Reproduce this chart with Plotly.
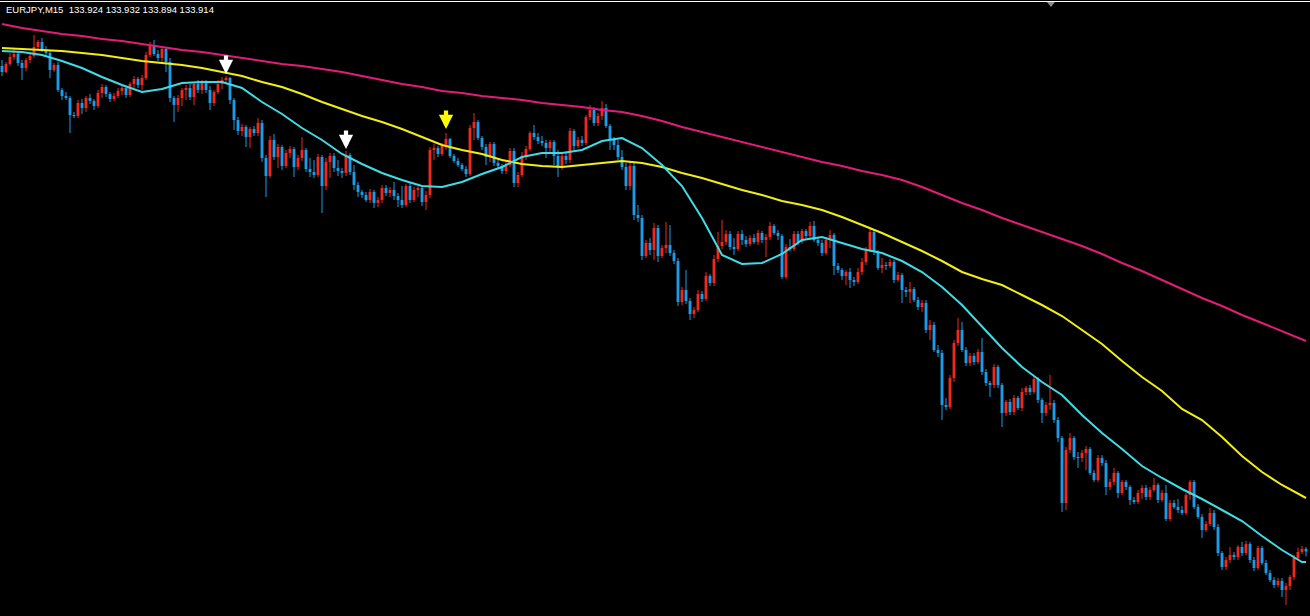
import plotly.graph_objects as go

# ---------------- data (EURJPY M15, prices) ----------------
bars = list(range(327))

opens = [
    135.856, 135.832, 135.864, 135.892, 135.904, 135.868, 135.848, 135.880, 135.896, 135.932,
    135.952, 135.920, 135.908, 135.840, 135.860, 135.760, 135.736, 135.728, 135.660, 135.656,
    135.708, 135.688, 135.728, 135.716, 135.696, 135.748, 135.772, 135.744, 135.724, 135.736,
    135.756, 135.768, 135.740, 135.784, 135.804, 135.780, 135.808, 135.900, 135.936, 135.904,
    135.888, 135.924, 135.872, 135.728, 135.700, 135.728, 135.760, 135.768, 135.732, 135.784,
    135.760, 135.788, 135.760, 135.708, 135.752, 135.784, 135.800, 135.808, 135.720, 135.640,
    135.596, 135.612, 135.572, 135.604, 135.588, 135.628, 135.488, 135.416, 135.560, 135.492,
    135.532, 135.456, 135.508, 135.524, 135.452, 135.488, 135.520, 135.444, 135.432, 135.420,
    135.492, 135.376, 135.472, 135.496, 135.448, 135.436, 135.428, 135.500, 135.432, 135.380,
    135.352, 135.340, 135.320, 135.352, 135.308, 135.320, 135.368, 135.348, 135.360, 135.336,
    135.320, 135.300, 135.376, 135.320, 135.360, 135.368, 135.312, 135.340, 135.520, 135.528,
    135.504, 135.536, 135.564, 135.496, 135.476, 135.460, 135.444, 135.424, 135.608, 135.632,
    135.568, 135.532, 135.492, 135.544, 135.468, 135.456, 135.436, 135.460, 135.516, 135.388,
    135.420, 135.496, 135.524, 135.588, 135.572, 135.556, 135.548, 135.528, 135.552, 135.496,
    135.456, 135.496, 135.480, 135.596, 135.536, 135.560, 135.548, 135.652, 135.680, 135.628,
    135.656, 135.688, 135.616, 135.560, 135.540, 135.492, 135.452, 135.376, 135.456, 135.260,
    135.248, 135.096, 135.148, 135.120, 135.208, 135.096, 135.128, 135.140, 135.108, 135.076,
    134.912, 134.960, 134.916, 134.864, 134.880, 134.944, 134.924, 135.016, 134.988, 135.084,
    135.136, 135.152, 135.184, 135.132, 135.124, 135.184, 135.160, 135.144, 135.168, 135.152,
    135.188, 135.160, 135.172, 135.216, 135.188, 135.176, 135.012, 135.132, 135.124, 135.184,
    135.152, 135.196, 135.176, 135.216, 135.160, 135.148, 135.108, 135.160, 135.180, 135.056,
    135.040, 135.016, 135.032, 135.000, 134.992, 135.032, 135.072, 135.120, 135.192, 135.112,
    135.048, 135.060, 135.056, 135.072, 135.000, 135.020, 134.960, 134.952, 134.964, 134.920,
    134.892, 134.908, 134.800, 134.820, 134.720, 134.708, 134.500, 134.492, 134.608, 134.748,
    134.800, 134.720, 134.668, 134.696, 134.672, 134.712, 134.632, 134.588, 134.580, 134.652,
    134.580, 134.468, 134.512, 134.472, 134.528, 134.488, 134.552, 134.568, 134.552, 134.604,
    134.520, 134.468, 134.500, 134.508, 134.440, 134.368, 134.108, 134.320, 134.368, 134.292,
    134.288, 134.308, 134.324, 134.228, 134.200, 134.288, 134.268, 134.172, 134.192, 134.228,
    134.148, 134.192, 134.172, 134.120, 134.112, 134.148, 134.168, 134.132, 134.160, 134.180,
    134.120, 134.148, 134.044, 134.108, 134.092, 134.080, 134.068, 134.140, 134.192, 134.092,
    134.052, 134.000, 134.024, 134.068, 134.012, 133.908, 133.852, 133.880, 133.900, 133.892,
    133.932, 133.908, 133.944, 133.880, 133.848, 133.928, 133.868, 133.828, 133.800, 133.780,
    133.796, 133.760, 133.776, 133.812, 133.888, 133.912, 133.924,
]

highs = [
    135.880, 135.872, 135.908, 135.928, 135.912, 135.880, 135.888, 135.904, 135.980, 135.960,
    135.968, 135.936, 135.920, 135.868, 135.872, 135.768, 135.752, 135.736, 135.672, 135.720,
    135.724, 135.736, 135.744, 135.724, 135.760, 135.784, 135.780, 135.752, 135.748, 135.768,
    135.780, 135.776, 135.792, 135.816, 135.812, 135.820, 135.912, 135.952, 135.960, 135.920,
    135.936, 135.932, 135.888, 135.736, 135.740, 135.768, 135.780, 135.784, 135.792, 135.800,
    135.800, 135.800, 135.776, 135.760, 135.800, 135.812, 135.816, 135.812, 135.728, 135.652,
    135.624, 135.620, 135.612, 135.616, 135.648, 135.640, 135.500, 135.576, 135.584, 135.544,
    135.540, 135.520, 135.536, 135.532, 135.500, 135.572, 135.528, 135.488, 135.480, 135.504,
    135.500, 135.488, 135.508, 135.508, 135.480, 135.448, 135.516, 135.508, 135.460, 135.392,
    135.360, 135.352, 135.364, 135.360, 135.332, 135.380, 135.380, 135.372, 135.392, 135.348,
    135.376, 135.384, 135.388, 135.372, 135.376, 135.376, 135.356, 135.532, 135.544, 135.536,
    135.548, 135.588, 135.568, 135.504, 135.488, 135.468, 135.456, 135.620, 135.668, 135.640,
    135.576, 135.544, 135.552, 135.552, 135.480, 135.464, 135.472, 135.528, 135.528, 135.432,
    135.512, 135.536, 135.596, 135.620, 135.588, 135.576, 135.560, 135.560, 135.560, 135.520,
    135.508, 135.512, 135.608, 135.604, 135.572, 135.576, 135.660, 135.700, 135.692, 135.668,
    135.716, 135.704, 135.624, 135.572, 135.560, 135.520, 135.468, 135.472, 135.472, 135.300,
    135.260, 135.160, 135.168, 135.228, 135.220, 135.140, 135.232, 135.220, 135.120, 135.088,
    134.972, 135.040, 134.928, 134.892, 134.960, 134.956, 135.032, 135.024, 135.100, 135.192,
    135.240, 135.200, 135.196, 135.168, 135.196, 135.200, 135.176, 135.180, 135.184, 135.200,
    135.196, 135.184, 135.232, 135.224, 135.200, 135.184, 135.144, 135.164, 135.196, 135.196,
    135.204, 135.204, 135.232, 135.236, 135.172, 135.160, 135.172, 135.200, 135.188, 135.068,
    135.048, 135.040, 135.048, 135.012, 135.048, 135.088, 135.132, 135.204, 135.200, 135.120,
    135.088, 135.072, 135.084, 135.080, 135.032, 135.028, 134.972, 134.992, 134.972, 134.932,
    134.920, 134.920, 134.840, 134.832, 134.740, 134.720, 134.528, 134.620, 134.760, 134.848,
    134.832, 134.732, 134.708, 134.708, 134.724, 134.768, 134.644, 134.596, 134.664, 134.660,
    134.588, 134.520, 134.524, 134.540, 134.536, 134.568, 134.576, 134.580, 134.612, 134.612,
    134.528, 134.512, 134.620, 134.520, 134.452, 134.376, 134.332, 134.388, 134.376, 134.312,
    134.320, 134.336, 134.332, 134.240, 134.300, 134.300, 134.280, 134.204, 134.248, 134.236,
    134.200, 134.200, 134.180, 134.132, 134.160, 134.180, 134.180, 134.172, 134.208, 134.188,
    134.160, 134.180, 134.120, 134.120, 134.124, 134.096, 134.148, 134.200, 134.200, 134.104,
    134.064, 134.036, 134.088, 134.080, 134.024, 133.916, 133.892, 133.932, 133.912, 133.940,
    133.952, 133.956, 133.952, 133.892, 133.936, 133.936, 133.880, 133.840, 133.812, 133.808,
    133.808, 133.788, 133.820, 133.900, 133.928, 133.936, 133.932,
]

lows = [
    135.816, 135.828, 135.856, 135.880, 135.856, 135.800, 135.836, 135.868, 135.888, 135.920,
    135.912, 135.896, 135.808, 135.832, 135.752, 135.720, 135.720, 135.588, 135.648, 135.648,
    135.664, 135.672, 135.704, 135.680, 135.688, 135.728, 135.732, 135.712, 135.716, 135.728,
    135.740, 135.728, 135.732, 135.768, 135.768, 135.760, 135.800, 135.892, 135.896, 135.876,
    135.872, 135.832, 135.712, 135.632, 135.672, 135.696, 135.720, 135.720, 135.700, 135.748,
    135.744, 135.748, 135.680, 135.696, 135.744, 135.764, 135.784, 135.704, 135.600, 135.580,
    135.576, 135.532, 135.528, 135.576, 135.576, 135.472, 135.332, 135.408, 135.480, 135.448,
    135.440, 135.448, 135.488, 135.412, 135.440, 135.476, 135.432, 135.412, 135.408, 135.412,
    135.268, 135.360, 135.408, 135.432, 135.416, 135.408, 135.416, 135.420, 135.360, 135.332,
    135.328, 135.312, 135.308, 135.288, 135.292, 135.308, 135.336, 135.332, 135.320, 135.292,
    135.288, 135.292, 135.308, 135.312, 135.332, 135.296, 135.280, 135.328, 135.480, 135.492,
    135.496, 135.520, 135.488, 135.468, 135.452, 135.436, 135.412, 135.416, 135.560, 135.560,
    135.520, 135.460, 135.472, 135.456, 135.444, 135.424, 135.424, 135.452, 135.372, 135.372,
    135.412, 135.480, 135.516, 135.560, 135.544, 135.536, 135.488, 135.512, 135.460, 135.412,
    135.440, 135.464, 135.468, 135.520, 135.528, 135.536, 135.540, 135.640, 135.616, 135.616,
    135.640, 135.608, 135.520, 135.520, 135.480, 135.440, 135.360, 135.360, 135.240, 135.232,
    135.080, 135.088, 135.100, 135.080, 135.072, 135.088, 135.108, 135.096, 135.064, 134.896,
    134.900, 134.904, 134.840, 134.848, 134.872, 134.912, 134.916, 134.976, 134.976, 135.072,
    135.124, 135.140, 135.120, 135.100, 135.116, 135.140, 135.132, 135.136, 135.144, 135.140,
    135.148, 135.092, 135.160, 135.180, 135.160, 135.004, 135.004, 135.116, 135.116, 135.140,
    135.144, 135.168, 135.164, 135.152, 135.136, 135.096, 135.100, 135.128, 135.020, 135.028,
    135.000, 134.980, 134.968, 134.976, 134.984, 135.020, 135.060, 135.112, 135.100, 135.040,
    135.028, 135.040, 135.048, 134.988, 134.992, 134.908, 134.932, 134.908, 134.912, 134.880,
    134.872, 134.788, 134.760, 134.712, 134.692, 134.440, 134.480, 134.484, 134.592, 134.736,
    134.712, 134.656, 134.656, 134.660, 134.664, 134.620, 134.576, 134.532, 134.568, 134.568,
    134.412, 134.456, 134.460, 134.460, 134.480, 134.476, 134.540, 134.540, 134.544, 134.508,
    134.428, 134.456, 134.480, 134.428, 134.352, 134.072, 134.080, 134.308, 134.280, 134.248,
    134.272, 134.240, 134.220, 134.192, 134.192, 134.256, 134.140, 134.160, 134.180, 134.128,
    134.140, 134.160, 134.100, 134.104, 134.104, 134.124, 134.120, 134.120, 134.152, 134.108,
    134.112, 134.036, 134.036, 134.084, 134.068, 134.060, 134.060, 134.120, 134.084, 134.044,
    133.968, 133.992, 134.016, 134.000, 133.896, 133.840, 133.840, 133.868, 133.880, 133.880,
    133.896, 133.900, 133.868, 133.836, 133.840, 133.860, 133.820, 133.792, 133.768, 133.772,
    133.732, 133.700, 133.760, 133.800, 133.880, 133.904, 133.894,
]

closes = [
    135.832, 135.864, 135.892, 135.904, 135.868, 135.848, 135.880, 135.896, 135.932, 135.952,
    135.920, 135.908, 135.840, 135.860, 135.760, 135.736, 135.728, 135.660, 135.656, 135.708,
    135.688, 135.728, 135.716, 135.696, 135.748, 135.772, 135.744, 135.724, 135.736, 135.756,
    135.768, 135.740, 135.784, 135.804, 135.780, 135.808, 135.900, 135.936, 135.904, 135.888,
    135.924, 135.872, 135.728, 135.700, 135.728, 135.760, 135.768, 135.732, 135.784, 135.760,
    135.788, 135.760, 135.708, 135.752, 135.784, 135.800, 135.808, 135.720, 135.640, 135.596,
    135.612, 135.572, 135.604, 135.588, 135.628, 135.488, 135.416, 135.560, 135.492, 135.532,
    135.456, 135.508, 135.524, 135.452, 135.488, 135.520, 135.444, 135.432, 135.420, 135.492,
    135.376, 135.472, 135.496, 135.448, 135.436, 135.428, 135.500, 135.432, 135.380, 135.352,
    135.340, 135.320, 135.352, 135.308, 135.320, 135.368, 135.348, 135.360, 135.336, 135.320,
    135.300, 135.376, 135.320, 135.360, 135.368, 135.312, 135.340, 135.520, 135.528, 135.504,
    135.536, 135.564, 135.496, 135.476, 135.460, 135.444, 135.424, 135.608, 135.632, 135.568,
    135.532, 135.492, 135.544, 135.468, 135.456, 135.436, 135.460, 135.516, 135.388, 135.420,
    135.496, 135.524, 135.588, 135.572, 135.556, 135.548, 135.528, 135.552, 135.496, 135.456,
    135.496, 135.480, 135.596, 135.536, 135.560, 135.548, 135.652, 135.680, 135.628, 135.656,
    135.688, 135.616, 135.560, 135.540, 135.492, 135.452, 135.376, 135.456, 135.260, 135.248,
    135.096, 135.148, 135.120, 135.208, 135.096, 135.128, 135.140, 135.108, 135.076, 134.912,
    134.960, 134.916, 134.864, 134.880, 134.944, 134.924, 135.016, 134.988, 135.084, 135.136,
    135.152, 135.184, 135.132, 135.124, 135.184, 135.160, 135.144, 135.168, 135.152, 135.188,
    135.160, 135.172, 135.216, 135.188, 135.176, 135.012, 135.132, 135.124, 135.184, 135.152,
    135.196, 135.176, 135.216, 135.160, 135.148, 135.108, 135.160, 135.180, 135.056, 135.040,
    135.016, 135.032, 135.000, 134.992, 135.032, 135.072, 135.120, 135.192, 135.112, 135.048,
    135.060, 135.056, 135.072, 135.000, 135.020, 134.960, 134.952, 134.964, 134.920, 134.892,
    134.908, 134.800, 134.820, 134.720, 134.708, 134.500, 134.492, 134.608, 134.748, 134.800,
    134.720, 134.668, 134.696, 134.672, 134.712, 134.632, 134.588, 134.580, 134.652, 134.580,
    134.468, 134.512, 134.472, 134.528, 134.488, 134.552, 134.568, 134.552, 134.604, 134.520,
    134.468, 134.500, 134.508, 134.440, 134.368, 134.108, 134.320, 134.368, 134.292, 134.288,
    134.308, 134.324, 134.228, 134.200, 134.288, 134.268, 134.172, 134.192, 134.228, 134.148,
    134.192, 134.172, 134.120, 134.112, 134.148, 134.168, 134.132, 134.160, 134.180, 134.120,
    134.148, 134.044, 134.108, 134.092, 134.080, 134.068, 134.140, 134.192, 134.092, 134.052,
    134.000, 134.024, 134.068, 134.012, 133.908, 133.852, 133.880, 133.900, 133.892, 133.932,
    133.908, 133.944, 133.880, 133.848, 133.928, 133.868, 133.828, 133.800, 133.780, 133.796,
    133.760, 133.776, 133.812, 133.888, 133.912, 133.924, 133.914,
]

# moving averages, sampled every 5 bars (plus the last bar)
ma_bars = list(range(0, 326, 5)) + [326]

ma_fast = [  # turquoise
    135.916, 135.912, 135.900, 135.876, 135.848, 135.812, 135.780, 135.752, 135.764, 135.788,
    135.792, 135.792, 135.768, 135.712, 135.664, 135.608, 135.560, 135.504, 135.464, 135.428,
    135.400, 135.376, 135.372, 135.392, 135.424, 135.452, 135.492, 135.508, 135.508, 135.520,
    135.556, 135.568, 135.528, 135.460, 135.376, 135.248, 135.100, 135.064, 135.068, 135.104,
    135.160, 135.172, 135.148, 135.124, 135.108, 135.076, 135.032, 134.972, 134.900, 134.816,
    134.728, 134.652, 134.592, 134.540, 134.460, 134.388, 134.324, 134.256, 134.208, 134.164,
    134.124, 134.080, 134.036, 133.976, 133.920, 133.872, 133.872,
]

ma_mid = [  # yellow
    135.928, 135.924, 135.920, 135.916, 135.908, 135.900, 135.888, 135.876, 135.868, 135.860,
    135.848, 135.832, 135.816, 135.792, 135.772, 135.744, 135.712, 135.684, 135.656, 135.632,
    135.604, 135.572, 135.540, 135.520, 135.504, 135.480, 135.464, 135.456, 135.452, 135.460,
    135.468, 135.476, 135.468, 135.452, 135.428, 135.408, 135.384, 135.360, 135.340, 135.316,
    135.300, 135.280, 135.252, 135.220, 135.188, 135.152, 135.116, 135.076, 135.032, 135.004,
    134.980, 134.940, 134.900, 134.856, 134.800, 134.744, 134.676, 134.612, 134.556, 134.484,
    134.440, 134.372, 134.296, 134.232, 134.180, 134.136, 134.128,
]

ma_slow = [  # deep pink
    136.024, 136.008, 135.996, 135.984, 135.976, 135.964, 135.956, 135.944, 135.932, 135.920,
    135.912, 135.900, 135.888, 135.876, 135.864, 135.856, 135.844, 135.832, 135.816, 135.800,
    135.784, 135.772, 135.756, 135.748, 135.736, 135.728, 135.720, 135.708, 135.700, 135.692,
    135.680, 135.672, 135.656, 135.636, 135.612, 135.592, 135.572, 135.552, 135.532, 135.512,
    135.492, 135.472, 135.456, 135.436, 135.420, 135.400, 135.372, 135.340, 135.308, 135.280,
    135.248, 135.220, 135.192, 135.164, 135.136, 135.104, 135.068, 135.036, 135.000, 134.964,
    134.928, 134.896, 134.860, 134.828, 134.796, 134.764, 134.756,
]

# sell-signal arrows (bar, price at arrow tip, colour)
signal_bars = [56, 86, 111]
signal_prices = [135.824, 135.524, 135.604]
signal_colors = ["#FFFFFF", "#FFFFFF", "#FFFF00"]

header_text = "EURJPY,M15\u00a0\u00a0133.924 133.932 133.894 133.914"

# ---------------- styling ----------------
RED = "#F0281E"
BLUE = "#1E9BE6"
C_FAST = "#40DCE6"
C_MID = "#F2EE14"
C_SLOW = "#E31C79"

fig = go.Figure()

# wicks
up_x, up_y, dn_x, dn_y = [], [], [], []
body_colors = []
for b, o, h, l, c in zip(bars, opens, highs, lows, closes):
    if c >= o:
        up_x += [b, b, None]
        up_y += [h, l, None]
        body_colors.append(RED)
    else:
        dn_x += [b, b, None]
        dn_y += [h, l, None]
        body_colors.append(BLUE)

fig.add_trace(go.Scatter(x=up_x, y=up_y, mode="lines", line=dict(color=RED, width=1),
                         hoverinfo="skip"))
fig.add_trace(go.Scatter(x=dn_x, y=dn_y, mode="lines", line=dict(color=BLUE, width=1),
                         hoverinfo="skip"))

# bodies
fig.add_trace(go.Bar(x=bars, y=[c - o for o, c in zip(opens, closes)], base=opens,
                     width=0.72, marker=dict(color=body_colors, line=dict(width=0)),
                     hoverinfo="skip"))

# moving averages
fig.add_trace(go.Scatter(x=ma_bars, y=ma_slow, mode="lines",
                         line=dict(color=C_SLOW, width=2), hoverinfo="skip"))
fig.add_trace(go.Scatter(x=ma_bars, y=ma_mid, mode="lines",
                         line=dict(color=C_MID, width=2), hoverinfo="skip"))
fig.add_trace(go.Scatter(x=ma_bars, y=ma_fast, mode="lines",
                         line=dict(color=C_FAST, width=2), hoverinfo="skip"))

# arrows (thick shaft with a chevron head)
for b, p, col in zip(signal_bars, signal_prices, signal_colors):
    fig.add_annotation(x=b, y=p, xref="x", yref="y", text="", showarrow=True,
                       arrowhead=2, arrowsize=0.68, arrowwidth=4.2, arrowcolor=col,
                       ax=0, ay=-20, standoff=0)

# header text
fig.add_annotation(x=0.003, y=1 - 9 / 616, xref="paper", yref="paper",
                   xanchor="left", yanchor="middle", showarrow=False,
                   text=header_text,
                   font=dict(family="Liberation Sans, Arial, sans-serif", size=9.5,
                             color="#FFFFFF"))

# top border line and chart-shift marker
fig.add_shape(type="line", xref="paper", yref="paper", x0=0, x1=1,
              y0=1 - 1.5 / 616, y1=1 - 1.5 / 616, line=dict(color="#FFFFFF", width=1))
fig.add_shape(type="path", xref="paper", yref="paper",
              path="M 0.7992 0.99675 L 0.8053 0.99675 L 0.8023 0.98864 Z",
              fillcolor="#8C8C8C", line=dict(width=0))

fig.update_layout(
    width=1310, height=616,
    margin=dict(l=0, r=0, t=0, b=0),
    paper_bgcolor="#000000", plot_bgcolor="#000000",
    showlegend=False,
    xaxis=dict(range=[-0.5, 327], visible=False, fixedrange=True),
    yaxis=dict(range=[133.656, 136.12], visible=False, fixedrange=True),
)

fig.write_html("out.html", config={"displayModeBar": False},
               post_script="document.body.style.margin='0px';")
